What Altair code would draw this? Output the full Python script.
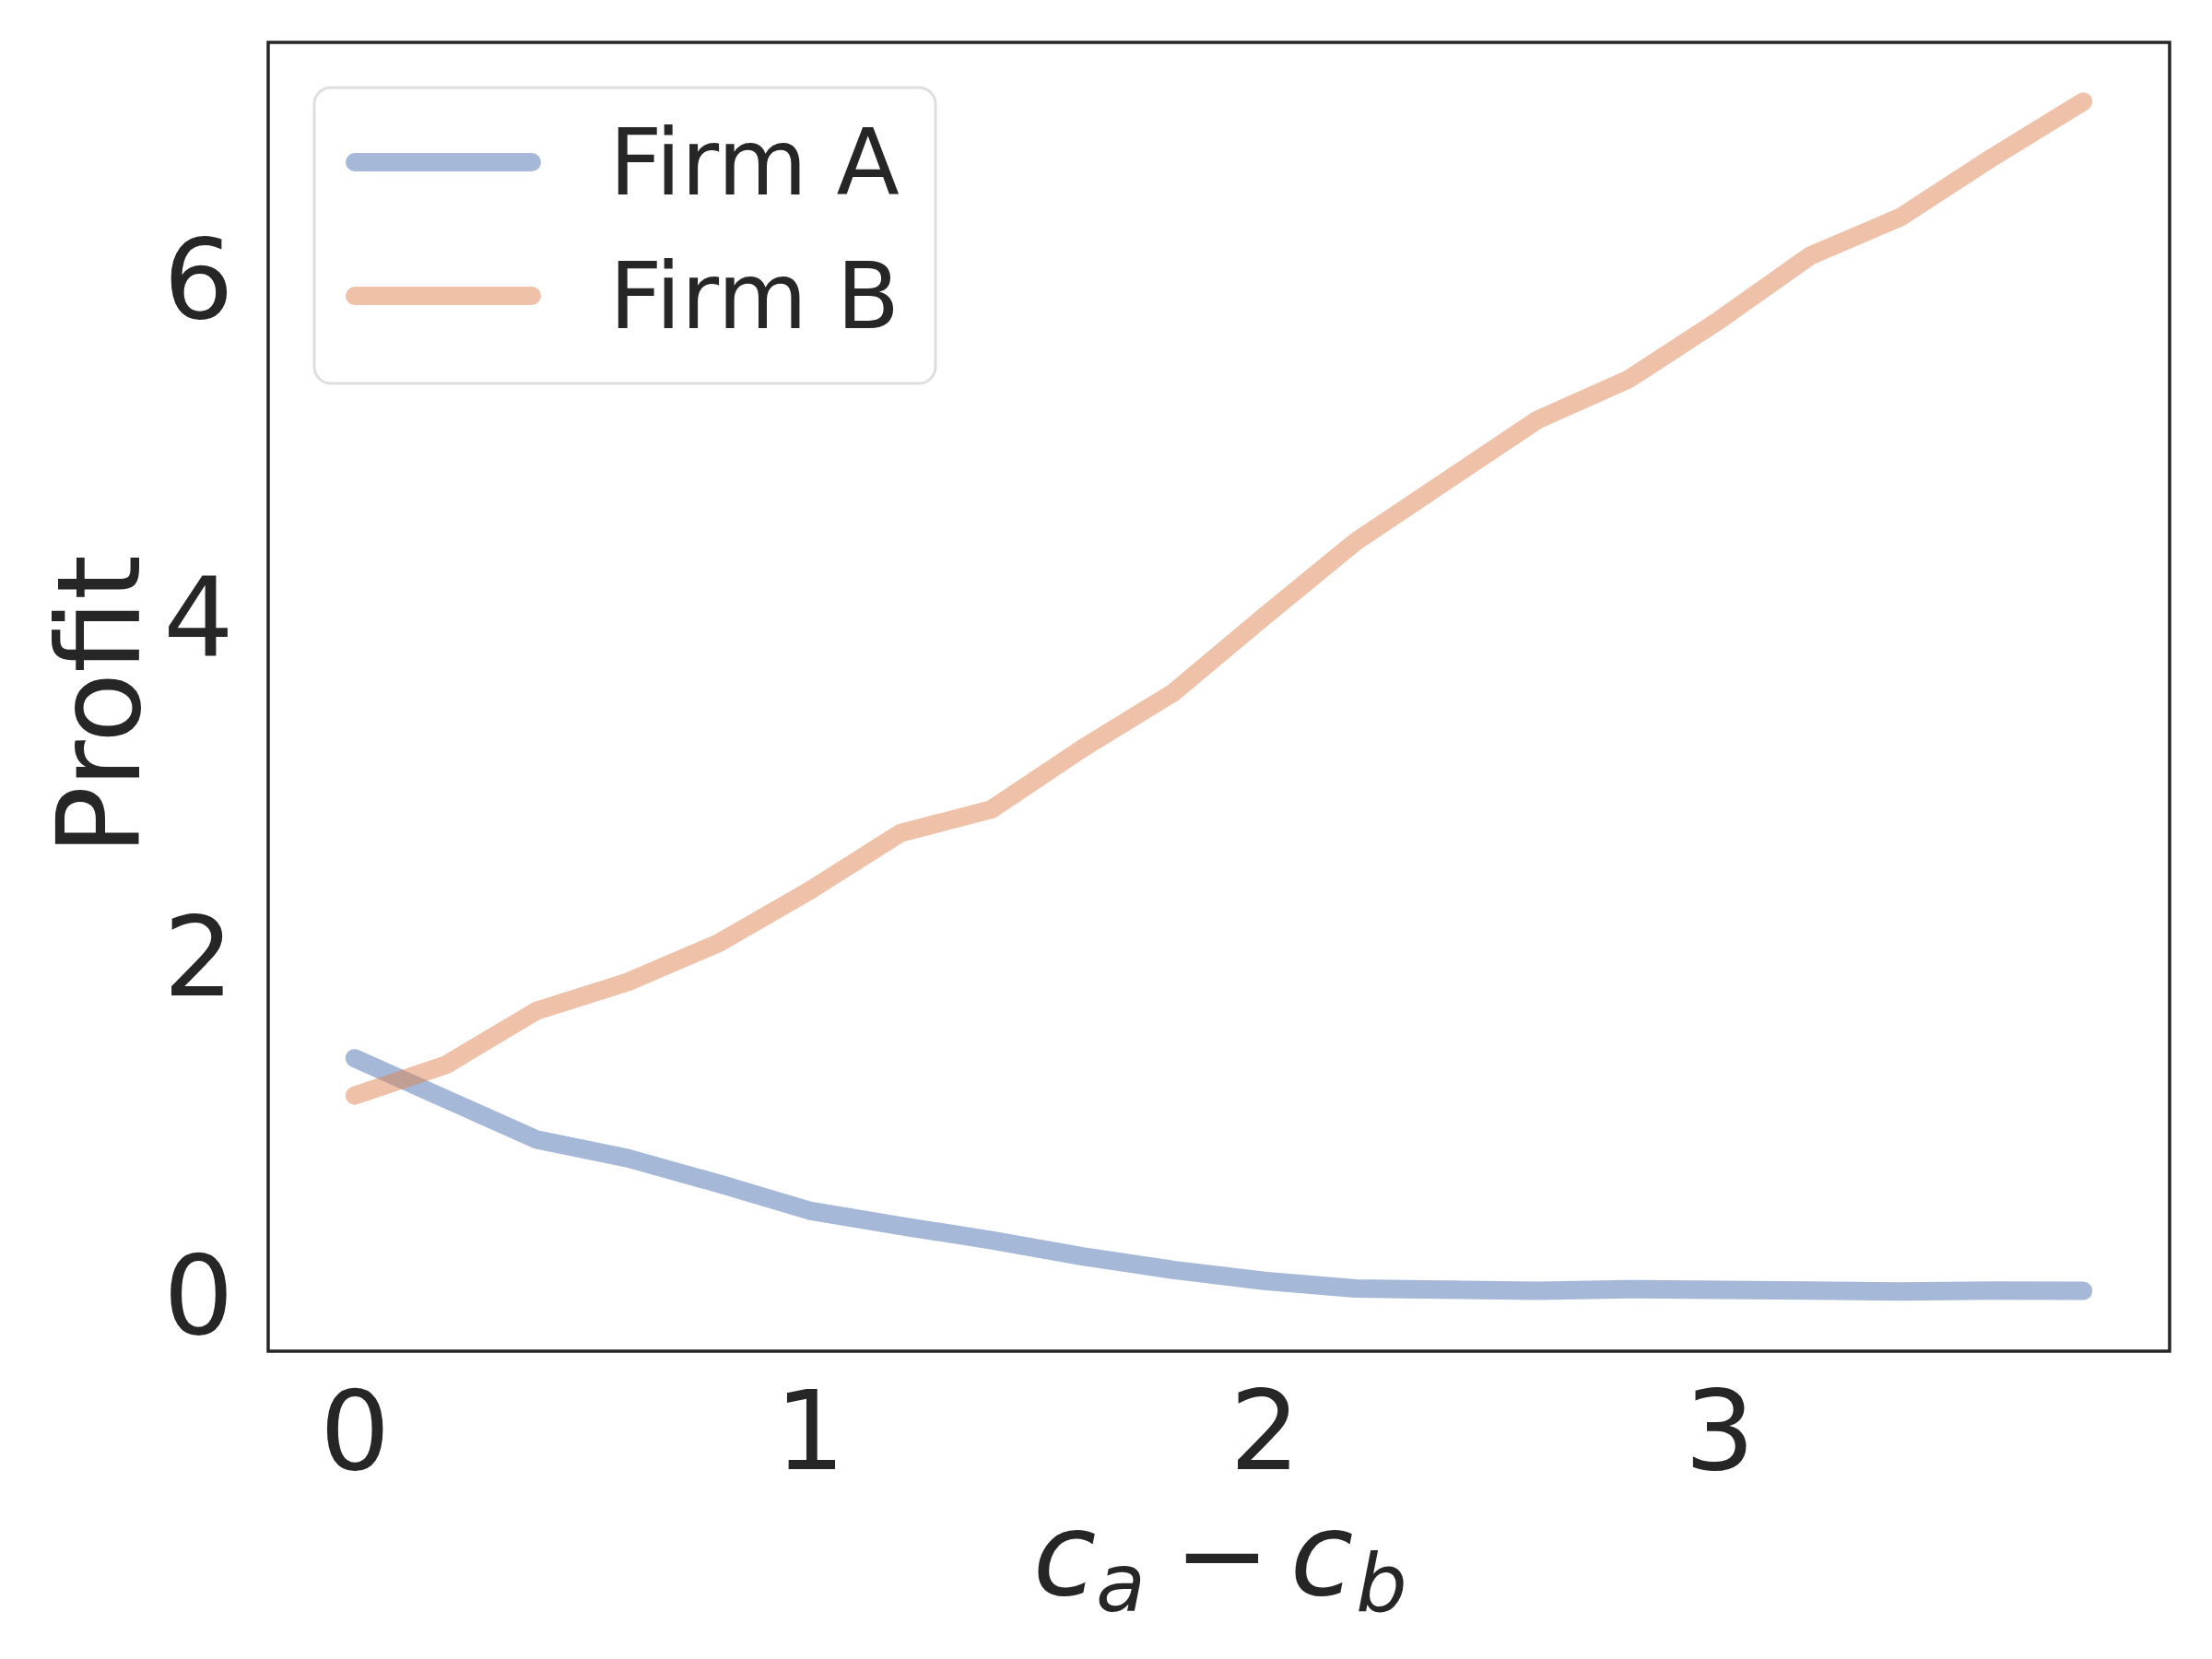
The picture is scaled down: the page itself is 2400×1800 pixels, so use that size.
import altair as alt
import pandas as pd

# ---- data ----
cost_diff = [0.0, 0.2, 0.4, 0.6, 0.8, 1.0, 1.2, 1.4, 1.6, 1.8,
             2.0, 2.2, 2.4, 2.6, 2.8, 3.0, 3.2, 3.4, 3.6, 3.8]
firm_a = [1.39, 1.15, 0.91, 0.80, 0.65, 0.49, 0.40, 0.315, 0.22, 0.14,
          0.075, 0.03, 0.023, 0.016, 0.026, 0.022, 0.018, 0.012, 0.018, 0.016]
firm_b = [1.17, 1.35, 1.67, 1.84, 2.07, 2.38, 2.72, 2.86, 3.22, 3.55,
          4.00, 4.44, 4.80, 5.16, 5.40, 5.75, 6.13, 6.36, 6.71, 7.04]
firms = ["Firm A", "Firm B"]
colors = ["#4C72B0", "#DD8452"]
x_ticks = [0, 1, 2, 3]
y_ticks = [0, 2, 4, 6]

W, H = 2063, 1420
FONT = "DejaVu Sans"
INK = "#262626"

df = pd.DataFrame({
    "x": cost_diff * 2,
    "profit": firm_a + firm_b,
    "firm": [firms[0]] * len(cost_diff) + [firms[1]] * len(cost_diff),
})

color_scale = alt.Scale(domain=firms, range=colors)

lines = alt.Chart(df).mark_line(
    strokeWidth=20, strokeCap="round", strokeJoin="round", opacity=0.5
).encode(
    x=alt.X("x:Q", scale=alt.Scale(domain=[-0.19, 3.99], nice=False, zero=False),
            axis=alt.Axis(values=x_ticks, title=None, labelPadding=32, format="d")),
    y=alt.Y("profit:Q", scale=alt.Scale(domain=[-0.34, 7.39], nice=False, zero=False),
            axis=alt.Axis(values=y_ticks, title=None, labelPadding=38,
                          labelOffset=7, format="d")),
    color=alt.Color("firm:N", scale=color_scale, legend=None),
    detail="firm:N",
)

one = pd.DataFrame({"k": [0]})

# legend frame
legend_box = alt.Chart(one).mark_rect(
    fill="white", fillOpacity=0.8, stroke="#dedede", strokeWidth=3, cornerRadius=18
).encode(x=alt.value(50), x2=alt.value(724), y=alt.value(49), y2=alt.value(370))

legend_layers = [legend_box]
row_y = [130, 275]
for i, f in enumerate(firms):
    legend_layers.append(
        alt.Chart(one).mark_rule(strokeWidth=20, strokeCap="round", opacity=0.5,
                                 color=colors[i])
        .encode(x=alt.value(94), x2=alt.value(286), y=alt.value(row_y[i]))
    )
    legend_layers.append(
        alt.Chart(pd.DataFrame({"t": [f]})).mark_text(
            font=FONT, fontSize=100, color=INK, align="left", baseline="alphabetic"
        ).encode(text="t:N", x=alt.value(370), y=alt.value(row_y[i] + 35))
    )

# y title
y_title = alt.Chart(pd.DataFrame({"t": ["Profit"]})).mark_text(
    font=FONT, fontSize=125, color=INK, angle=270, align="center", baseline="alphabetic"
).encode(text="t:N", x=alt.value(-140), y=alt.value(719))

# x title: c_a − c_b (math italic with subscripts)
pieces = [
    ("c", 864, 1684, 125, "italic"),
    ("a", 925, 1702, 88, "italic"),
    ("\u2212", 1035, 1684, 125, "normal"),
    ("c", 1143, 1684, 125, "italic"),
    ("b", 1208, 1702, 88, "italic"),
]
x_title_layers = []
for txt, px, py, fs, style in pieces:
    x_title_layers.append(
        alt.Chart(pd.DataFrame({"t": [txt]})).mark_text(
            font=FONT, fontSize=fs, fontStyle=style, color=INK,
            align="center", baseline="alphabetic"
        ).encode(text="t:N", x=alt.value(px), y=alt.value(py))
    )

chart = alt.layer(lines, *legend_layers, y_title, *x_title_layers).properties(
    width=W, height=H,
    autosize=alt.AutoSizeParams(type="none"),
    padding={"left": 283, "top": 38, "right": 30, "bottom": 320},
    background="white",
).configure_view(
    stroke=INK, strokeWidth=3.5
).configure_axis(
    labelFont=FONT, labelFontSize=120, labelColor=INK,
    grid=False, domain=False, ticks=False, tickSize=0,
)

chart.save("out.html", embed_options={"renderer": "svg", "actions": False})
